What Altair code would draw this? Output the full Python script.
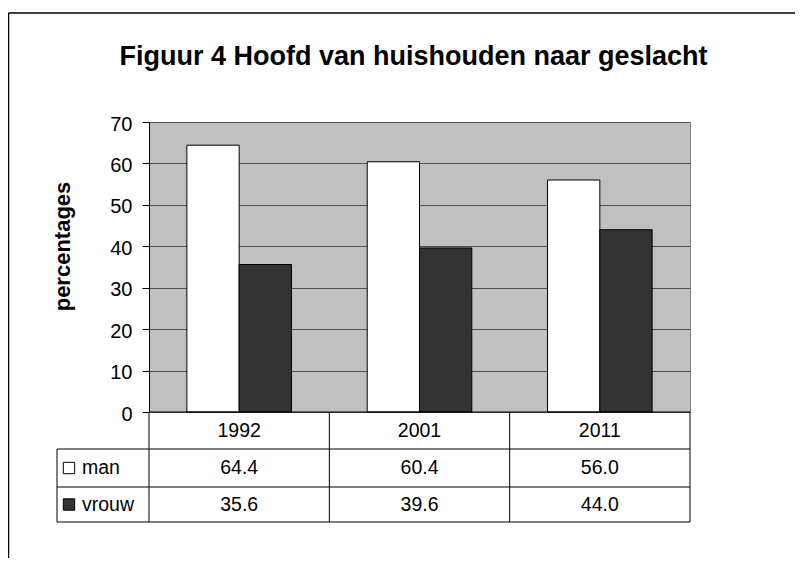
import altair as alt
import pandas as pd

# ---------------- data ----------------
years = ["1992", "2001", "2011"]
series = ["man", "vrouw"]
man = [64.4, 60.4, 56.0]
vrouw = [35.6, 39.6, 44.0]
colors = ["#FFFFFF", "#333333"]
y_ticks = [0, 10, 20, 30, 40, 50, 60, 70]
chart_title = "Figuur 4 Hoofd van huishouden naar geslacht"
y_title = "percentages"

# ---------------- layout constants ----------------
W, H = 541, 290
YMAX = 70
PX = YMAX / H          # y data units per pixel
XU = len(years) / W    # x data units per pixel
ROW_PX = [0, 37, 75, 110]   # table row edges below the plot (px)
LABEL_COL_PX = 92           # width of the label column left of the plot (px)
BAR_LEFT = 0.21
BAR_W = 0.29
FONT = "Liberation Sans"

values = {"man": man, "vrouw": vrouw}

# bars
bar_rows = []
for s_i, s in enumerate(series):
    for i, yr in enumerate(years):
        x0 = i + BAR_LEFT + s_i * BAR_W
        bar_rows.append({"year": yr, "series": s, "value": values[s][i],
                         "x0": x0, "x1": x0 + BAR_W})
bars_df = pd.DataFrame(bar_rows)

# table texts
def row_center(r):
    return -(ROW_PX[r] + ROW_PX[r + 1]) / 2 * PX

text_rows = []
for i, yr in enumerate(years):
    text_rows.append({"x": i + 0.5, "y": row_center(0), "t": yr})
    for s_i, s in enumerate(series):
        text_rows.append({"x": i + 0.5, "y": row_center(s_i + 1),
                          "t": f"{values[s][i]:.1f}"})
text_df = pd.DataFrame(text_rows)

# legend entries inside the table
leg_df = pd.DataFrame({
    "series": series,
    "y": [row_center(1), row_center(2)],
    "xs": [(69 - 149) * XU] * 2,
    "xt": [(82 - 149) * XU] * 2,
})

# table grid lines
left = -LABEL_COL_PX * XU
bottom = -ROW_PX[3] * PX
rule_rows = []
for i in range(len(years) + 1):
    rule_rows.append({"x": i, "x2": i, "y": 0, "y2": bottom})
rule_rows.append({"x": left, "x2": left, "y": -ROW_PX[1] * PX, "y2": bottom})
rule_rows.append({"x": 0, "x2": len(years), "y": 0, "y2": 0})
for r in ROW_PX[1:]:
    rule_rows.append({"x": left, "x2": len(years), "y": -r * PX, "y2": -r * PX})
rules_df = pd.DataFrame(rule_rows)

xs = alt.Scale(domain=[0, len(years)], nice=False, zero=False)
ys = alt.Scale(domain=[0, YMAX], nice=False, zero=False)

y_axis = alt.Axis(values=y_ticks, title=y_title, grid=True,
                  gridColor="#505050", gridWidth=1,
                  domainColor="black", tickColor="black", tickSize=7,
                  labelPadding=10, labelFontSize=20, labelFont=FONT,
                  labelColor="black", labelOffset=2,
                  titleFont=FONT, titleFontSize=22, titleFontWeight="bold",
                  titleColor="black", titleX=-87, titleY=124,
                  titleBaseline="middle", titleAngle=270)

bars = alt.Chart(bars_df).mark_bar(stroke="black", strokeWidth=1).encode(
    x=alt.X("x0:Q", scale=xs, axis=None),
    x2="x1:Q",
    y=alt.Y("value:Q", scale=ys, axis=y_axis),
    y2=alt.Y2Datum(0),
    color=alt.Color("series:N", scale=alt.Scale(domain=series, range=colors), legend=None),
)

rules = alt.Chart(rules_df).mark_rule(color="black", strokeWidth=1).encode(
    x=alt.X("x:Q", scale=xs, axis=None),
    x2="x2:Q",
    y=alt.Y("y:Q", scale=ys, axis=y_axis),
    y2="y2:Q",
)

texts = alt.Chart(text_df).mark_text(font=FONT, fontSize=19.5, color="black",
                                     baseline="middle", align="center").encode(
    x=alt.X("x:Q", scale=xs, axis=None),
    y=alt.Y("y:Q", scale=ys, axis=y_axis),
    text="t:N",
)

leg_sq = alt.Chart(leg_df).mark_point(shape="square", size=130, filled=True,
                                      stroke="black", strokeWidth=1, opacity=1).encode(
    x=alt.X("xs:Q", scale=xs, axis=None),
    y=alt.Y("y:Q", scale=ys, axis=y_axis),
    fill=alt.Fill("series:N", scale=alt.Scale(domain=series, range=colors), legend=None),
)

leg_txt = alt.Chart(leg_df).mark_text(font=FONT, fontSize=19.5, color="black",
                                      baseline="middle", align="left").encode(
    x=alt.X("xt:Q", scale=xs, axis=None),
    y=alt.Y("y:Q", scale=ys, axis=y_axis),
    text="series:N",
)

title_txt = alt.Chart(pd.DataFrame({"t": [chart_title]})).mark_text(
    font=FONT, fontSize=27, fontWeight="bold", color="black",
    align="center", baseline="alphabetic").encode(
    x=alt.value(W / 2 - 6), y=alt.value(-57), text="t:N")

frame_left = alt.Chart(pd.DataFrame({"a": [0]})).mark_rule(color="black", strokeWidth=1.5).encode(
    x=alt.value(-140.5), y=alt.value(-109), y2=alt.value(460))
frame_top = alt.Chart(pd.DataFrame({"a": [0]})).mark_rule(color="black", strokeWidth=1.5).encode(
    x=alt.value(-140.5), x2=alt.value(700), y=alt.value(-109))

chart = alt.layer(bars, rules, texts, leg_sq, leg_txt, title_txt, frame_left, frame_top).properties(
    width=W, height=H, autosize="none",
    padding={"left": 141, "top": 114, "right": 105, "bottom": 146},
    background="white",
).configure_view(fill="#C0C0C0", stroke="#808080", strokeWidth=1)

chart.save("out.html", embed_options={"renderer": "svg", "actions": False})
